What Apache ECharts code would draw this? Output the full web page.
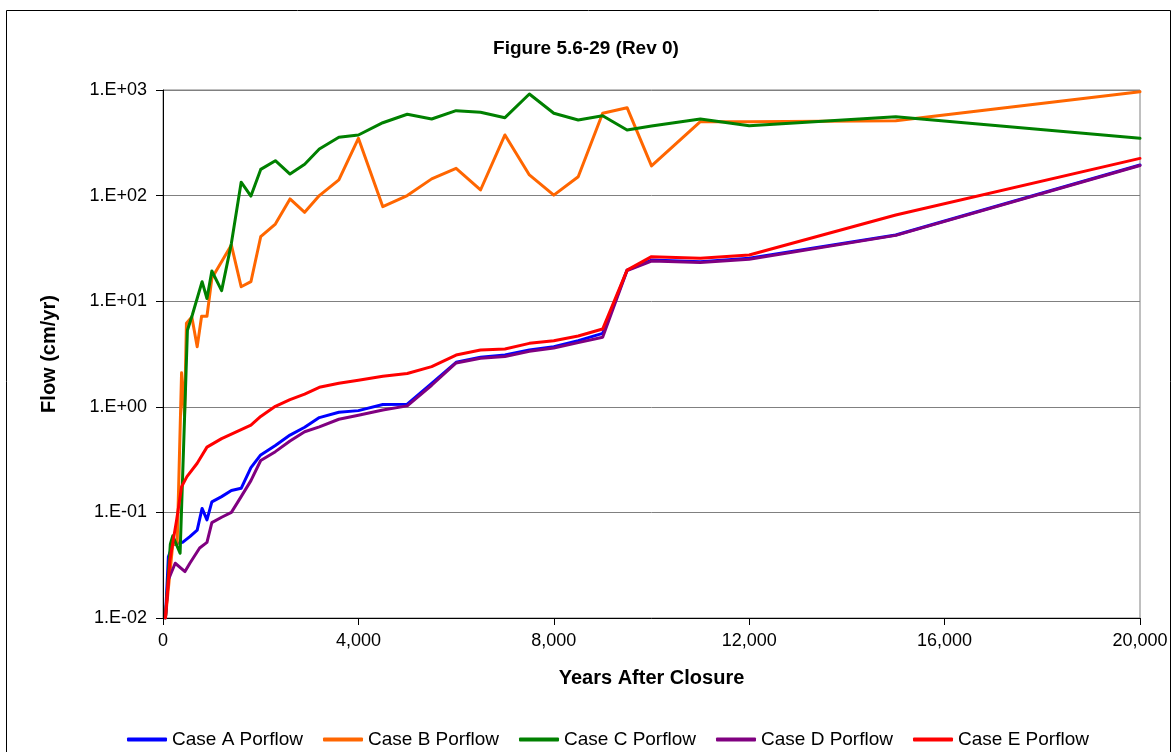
<!DOCTYPE html>
<html>
<head>
<meta charset="utf-8">
<script src="https://cdn.jsdelivr.net/npm/echarts@6/dist/echarts.min.js"></script>
<style>
html,body{margin:0;padding:0;background:#fff;}
#chart{width:1172px;height:752px;}
</style>
</head>
<body>
<div id="chart"></div>
<script>
// ---- Data (years after closure, flow in cm/yr) ----
const seriesNames = ['Case A Porflow','Case B Porflow','Case C Porflow','Case D Porflow','Case E Porflow'];

const yearsA = [50,110,200,300,400,550,700,800,900,1000,1200,1400,1600,1800,2000,2300,2600,2900,3200,3600,4000,4500,5000,5500,6000,6500,7000,7500,8000,8500,9000,9500,10000,11000,12000,15000,20000];
const flowA  = [0.01,0.038,0.049,0.051,0.052,0.059,0.068,0.109,0.085,0.126,0.141,0.161,0.169,0.265,0.35,0.43,0.54,0.64,0.79,0.887,0.92,1.05,1.06,1.67,2.64,2.94,3.09,3.45,3.71,4.23,4.96,19.7,24.5,23.7,25.5,42.4,195];

const yearsB = [50,200,290,380,440,480,590,700,790,900,1000,1400,1600,1800,2000,2300,2600,2900,3200,3600,4000,4500,5000,5500,6000,6500,7000,7500,8000,8500,9000,9500,10000,11000,12000,15000,20000];
const flowB  = [0.01,0.05,0.05,2.1,0.82,6.2,7.1,3.7,7.2,7.2,16.5,34,13.7,15.3,40.8,53.8,93,69.5,100,141,349,78.5,100,144,181,113,375,157,101,151,602,680,191,501,501,512,963];

const yearsC = [50,150,200,350,500,600,800,900,1000,1200,1400,1600,1800,2000,2300,2600,2900,3200,3600,4000,4500,5000,5500,6000,6500,7000,7500,8000,8500,9000,9500,10000,11000,12000,15000,20000];
const flowC  = [0.01,0.05,0.06,0.041,5.3,7.4,15.3,10.6,19.3,12.6,35.3,134,99,177,214,160,198,276,357,375,490,589,531,637,615,547,916,602,520,571,418,456,531,459,558,349];

const yearsD = [50,110,250,450,550,750,900,1000,1200,1400,1600,1800,2000,2300,2600,2900,3200,3600,4000,4500,5000,5500,6000,6500,7000,7500,8000,8500,9000,9500,10000,11000,12000,15000,20000];
const flowD  = [0.01,0.023,0.033,0.0275,0.033,0.046,0.052,0.08,0.09,0.10,0.141,0.2,0.31,0.376,0.475,0.58,0.645,0.762,0.83,0.933,1.02,1.6,2.6,2.88,3.0,3.35,3.6,4.05,4.55,19.5,24,23.3,25,42,193];

const yearsE = [50,140,280,380,490,700,900,1200,1500,1800,2000,2300,2600,2900,3200,3600,4000,4500,5000,5500,6000,6500,7000,7500,8000,8500,9000,9500,10000,11000,12000,15000,20000];
const flowE  = [0.01,0.035,0.085,0.175,0.218,0.292,0.415,0.5,0.58,0.67,0.81,1.01,1.17,1.32,1.53,1.67,1.78,1.95,2.07,2.4,3.09,3.45,3.53,3.99,4.23,4.68,5.45,19.7,26.4,25.5,27.4,65.5,225];

const xTicks = [0,4000,8000,12000,16000,20000];
const yTicks = [0.01,0.1,1,10,100,1000];

const titleText = 'Figure 5.6-29 (Rev 0)';
const xName = 'Years After Closure';
const yName = 'Flow (cm/yr)';

// ---- Build ----
const colors = ['#0000FF','#FF6600','#008000','#800080','#FF0000'];
const allYears = [yearsA,yearsB,yearsC,yearsD,yearsE];
const allFlows = [flowA,flowB,flowC,flowD,flowE];
const FONT = 'Arial, "Liberation Sans", Helvetica, sans-serif';

function pair(xs, ys){ return xs.map((x,i)=>[x, ys[i]]); }
function fmtSci(v){
  const e = Math.round(Math.log10(v));
  const s = e < 0 ? '-' : '+';
  const a = Math.abs(e);
  return '1.E' + s + (a < 10 ? '0' + a : a);
}

const legendLefts = [122,318,514,711,908];

const chart = echarts.init(document.getElementById('chart'), null, {renderer:'canvas'});
chart.setOption({
  animation:false,
  backgroundColor:'#fff',
  textStyle:{fontFamily:FONT},
  title:{
    text:titleText, left:'center', top:34,
    textStyle:{fontFamily:FONT, fontSize:19, fontWeight:'bold', color:'#000'}
  },
  legend: seriesNames.map((n,i)=>({
    data:[n], left:legendLefts[i], top:725, orient:'horizontal',
    icon:'roundRect', itemWidth:40, itemHeight:4, itemGap:5,
    textStyle:{fontFamily:FONT, fontSize:19, color:'#000'},
    selectedMode:false
  })),
  graphic:[{
    type:'rect', left:4, top:8, silent:true,
    shape:{x:0,y:0,width:1164,height:760},
    style:{fill:'none', stroke:'#000', lineWidth:1}
  }],
  grid:{left:163, right:32, top:90, bottom:134, show:true, borderColor:'#808080', borderWidth:1},
  xAxis:{
    type:'value', min:xTicks[0], max:xTicks[xTicks.length-1], interval:4000,
    name:xName, nameLocation:'middle', nameGap:50,
    nameTextStyle:{fontFamily:FONT, fontSize:20, fontWeight:'bold', color:'#000'},
    axisLine:{show:true, lineStyle:{color:'#000', width:1}},
    axisTick:{show:true, length:7, lineStyle:{color:'#000'}},
    axisLabel:{fontFamily:FONT, fontSize:18, color:'#000', margin:14,
      formatter:v=>v.toLocaleString('en-US')},
    splitLine:{show:false}
  },
  yAxis:{
    type:'log', logBase:10, min:yTicks[0], max:yTicks[yTicks.length-1],
    name:yName, nameLocation:'middle', nameGap:104, nameRotate:90,
    nameTextStyle:{fontFamily:FONT, fontSize:20, fontWeight:'bold', color:'#000'},
    axisLine:{show:true, lineStyle:{color:'#000', width:1}},
    axisTick:{show:true, length:7, lineStyle:{color:'#000'}},
    axisLabel:{fontFamily:FONT, fontSize:18, color:'#000', margin:16, formatter:fmtSci},
    splitLine:{show:true, lineStyle:{color:'#808080', width:1}},
    minorTick:{show:false}
  },
  series: seriesNames.map((n,i)=>({
    name:n, type:'line', data:pair(allYears[i], allFlows[i]),
    symbol:'none', smooth:false, clip:true,
    lineStyle:{color:colors[i], width:3, join:'round', cap:'round'},
    itemStyle:{color:colors[i]},
    emphasis:{disabled:true}
  }))
});
</script>
</body>
</html>
